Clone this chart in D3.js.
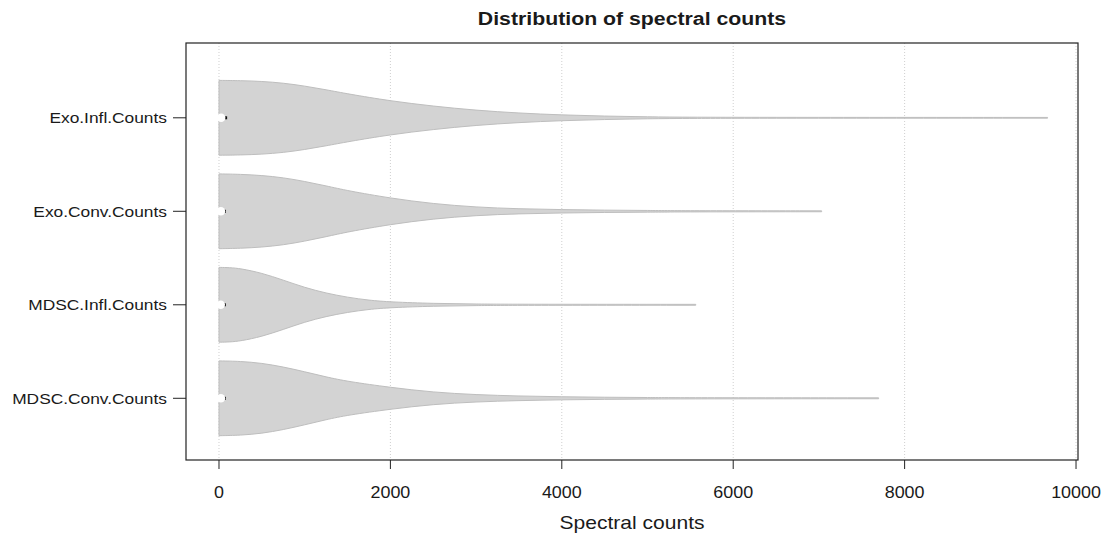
<!DOCTYPE html>
<html lang="en">
<head>
<meta charset="UTF-8">
<title>Distribution of spectral counts</title>
<script src="https://d3js.org/d3.v7.min.js"></script>
<style>
  body { margin: 0; background: #fff; }
  text { font-family: "Liberation Sans", Arial, sans-serif; fill: #1a1a1a; }
</style>
</head>
<body>
<svg id="chart" width="1106" height="533"></svg>
<script>
// categories, top to bottom
var categories = ["Exo.Infl.Counts", "Exo.Conv.Counts", "MDSC.Infl.Counts", "MDSC.Conv.Counts"];
var positions = [4, 3, 2, 1];

// density profiles (value, relative half-width)
var exoInflAt   = [0, 250, 500, 750, 1000, 1250, 1500, 2000, 2500, 3000, 3500, 4000, 4500, 5000, 5500, 6500, 9668];
var exoInflDens = [1, 0.995, 0.975, 0.93, 0.85, 0.75, 0.64, 0.45, 0.31, 0.2, 0.125, 0.075, 0.045, 0.025, 0.015, 0.011, 0.01];
var exoConvAt   = [0, 250, 500, 750, 1000, 1250, 1500, 2000, 2500, 3000, 3500, 4000, 4500, 5000, 5500, 7032];
var exoConvDens = [1, 0.99, 0.96, 0.9, 0.8, 0.68, 0.55, 0.35, 0.2, 0.11, 0.065, 0.045, 0.03, 0.022, 0.015, 0.012];
var mdscInflAt   = [0, 125, 250, 500, 750, 1000, 1250, 1500, 1750, 2000, 2500, 3000, 3500, 5563];
var mdscInflDens = [1, 0.995, 0.97, 0.85, 0.66, 0.46, 0.31, 0.2, 0.12, 0.075, 0.035, 0.02, 0.014, 0.012];
var mdscConvAt   = [0, 250, 500, 750, 1000, 1250, 1500, 2000, 2500, 3000, 3500, 4000, 4500, 5000, 5500, 7697];
var mdscConvDens = [1, 0.99, 0.94, 0.84, 0.71, 0.57, 0.45, 0.29, 0.16, 0.095, 0.06, 0.04, 0.028, 0.02, 0.015, 0.012];

// tiny boxplots near zero: q1, median, q3
var boxQ1  = [5, 5, 5, 5];
var boxMed = [25, 22, 20, 22];
var boxQ3  = [95, 80, 80, 80];

var xTicks = [0, 2000, 4000, 6000, 8000, 10000];

var profiles = [
  [exoInflAt, exoInflDens],
  [exoConvAt, exoConvDens],
  [mdscInflAt, mdscInflDens],
  [mdscConvAt, mdscConvDens]
];

var svg = d3.select("#chart");
var plotLeft = 186, plotRight = 1078, plotTop = 43, plotBottom = 460;

var x = d3.scaleLinear().domain([-385, 10023]).range([plotLeft, plotRight]);
var y = d3.scaleLinear().domain([0.34, 4.8]).range([plotBottom, plotTop]);
var maxHalf = 0.4;

// grid
svg.append("g").selectAll("line")
  .data(xTicks)
  .enter().append("line")
  .attr("x1", function(d) { return x(d); })
  .attr("x2", function(d) { return x(d); })
  .attr("y1", plotTop).attr("y2", plotBottom)
  .attr("stroke", "#cfcfcf")
  .attr("stroke-width", 1)
  .attr("stroke-dasharray", "1,2");

// violins
categories.forEach(function(cat, i) {
  var at = profiles[i][0], dens = profiles[i][1];
  var pts = at.map(function(v, j) { return [v, dens[j]]; });
  var pos = positions[i];
  var area = d3.area()
    .x(function(d) { return x(d[0]); })
    .y0(function(d) { return y(pos + d[1] * maxHalf); })
    .y1(function(d) { return y(pos - d[1] * maxHalf); })
    .curve(d3.curveBasis);
  svg.append("path")
    .attr("d", area(pts))
    .attr("fill", "#d3d3d3")
    .attr("stroke", "#bebebe")
    .attr("stroke-width", 1);

  // boxplot
  svg.append("rect")
    .attr("x", x(boxQ1[i]))
    .attr("y", y(pos) - 1.5)
    .attr("width", x(boxQ3[i]) - x(boxQ1[i]))
    .attr("height", 3)
    .attr("fill", "#111");
  svg.append("circle")
    .attr("cx", x(boxMed[i]))
    .attr("cy", y(pos))
    .attr("r", 4.3)
    .attr("fill", "#fff");
});

// box
svg.append("rect")
  .attr("x", plotLeft).attr("y", plotTop)
  .attr("width", plotRight - plotLeft).attr("height", plotBottom - plotTop)
  .attr("fill", "none")
  .attr("stroke", "#222")
  .attr("stroke-width", 1.2);

// x axis
var xg = svg.append("g");
xg.selectAll("line").data(xTicks).enter().append("line")
  .attr("x1", function(d) { return x(d); })
  .attr("x2", function(d) { return x(d); })
  .attr("y1", plotBottom).attr("y2", plotBottom + 9)
  .attr("stroke", "#222");
xg.selectAll("text").data(xTicks).enter().append("text")
  .attr("transform", function(d) { return "translate(" + x(d) + "," + 498 + ") scale(1.12,1)"; })
  .attr("text-anchor", "middle")
  .style("font-size", "16px")
  .text(function(d) { return d; });

// y axis
var yg = svg.append("g");
yg.selectAll("line").data(positions).enter().append("line")
  .attr("x1", plotLeft - 13).attr("x2", plotLeft)
  .attr("y1", function(d) { return y(d); })
  .attr("y2", function(d) { return y(d); })
  .attr("stroke", "#222");
yg.selectAll("text").data(categories).enter().append("text")
  .attr("transform", function(d, i) { return "translate(" + 167 + "," + (y(positions[i]) + 5.5) + ") scale(1.12,1)"; })
  .attr("text-anchor", "end")
  .style("font-size", "15.5px")
  .text(function(d) { return d; });

// titles
svg.append("text")
  .attr("transform", "translate(632,25) scale(1.12,1)")
  .attr("text-anchor", "middle")
  .style("font-size", "19px")
  .style("font-weight", "bold")
  .text("Distribution of spectral counts");
svg.append("text")
  .attr("transform", "translate(632,529) scale(1.12,1)")
  .attr("text-anchor", "middle")
  .style("font-size", "18.8px")
  .text("Spectral counts");
</script>
</body>
</html>
